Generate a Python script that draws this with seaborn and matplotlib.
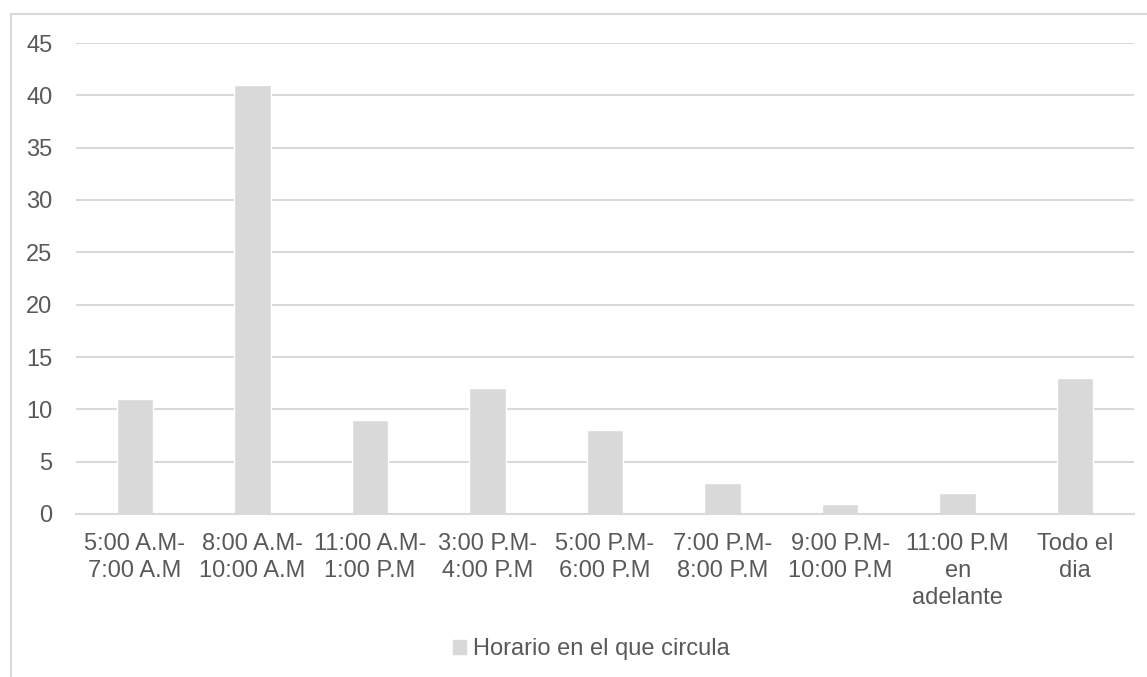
import matplotlib
matplotlib.use('Agg')
import matplotlib.pyplot as plt
import matplotlib.patches as patches
import seaborn as sns
import pandas as pd

# datos
horarios = ['5:00 A.M-\n7:00 A.M', '8:00 A.M-\n10:00 A.M', '11:00 A.M-\n1:00 P.M',
            '3:00 P.M-\n4:00 P.M', '5:00 P.M-\n6:00 P.M', '7:00 P.M-\n8:00 P.M',
            '9:00 P.M-\n10:00 P.M', '11:00 P.M\nen\nadelante', 'Todo el\ndia']
valores = [11, 41, 9, 12, 8, 3, 1, 2, 13]
serie = 'Horario en el que circula'
yticks = [0, 5, 10, 15, 20, 25, 30, 35, 40, 45]

df = pd.DataFrame({'horario': horarios, 'valor': valores, 'serie': serie})

sns.set_style('white')
plt.rcParams['font.family'] = ['Liberation Sans', 'DejaVu Sans']

fig = plt.figure(figsize=(11.47, 6.77), dpi=100)
ax = fig.add_axes([76 / 1147, 1 - 514 / 677, (1134 - 76) / 1147, (514 - 43) / 677])

gris = '#d9d9d9'
texto = '#595959'

sns.barplot(data=df, x='horario', y='valor', hue='serie', palette=[gris],
            width=0.31, ax=ax, legend=False, zorder=2)

ax.set_ylim(0, 45)
ax.set_yticks(yticks)
ax.set_xlim(-0.5, len(horarios) - 0.5)
ax.yaxis.grid(True, color=gris, linewidth=1.5, zorder=0)
ax.set_axisbelow(True)
for s in ['top', 'right', 'left']:
    ax.spines[s].set_visible(False)
ax.spines['bottom'].set_color(gris)
ax.spines['bottom'].set_linewidth(1.5)
ax.set_xlabel('')
ax.set_ylabel('')
ax.tick_params(axis='both', length=0, labelsize=17, labelcolor=texto)
ax.tick_params(axis='y', pad=17)
ax.tick_params(axis='x', pad=14)
for lab in ax.get_xticklabels():
    lab.set_horizontalalignment('center')
    lab.set_multialignment('center')
    lab.set_linespacing(1.28)

# borde del gráfico
borde = patches.Rectangle((11 / 1147, -0.1), 1.2, 1 - 14 / 677 + 0.1, transform=fig.transFigure,
                          fill=False, edgecolor=gris, linewidth=1.5)
fig.patches.append(borde)

# leyenda
handle = patches.Patch(color=gris)
fig.legend([handle], [serie], loc='center', bbox_to_anchor=(591 / 1147, 1 - 649 / 677),
           frameon=False, fontsize=17, labelcolor=texto, handlelength=0.55, handleheight=0.55,
           handletextpad=0.3)

fig.savefig('out.png', dpi=100)
